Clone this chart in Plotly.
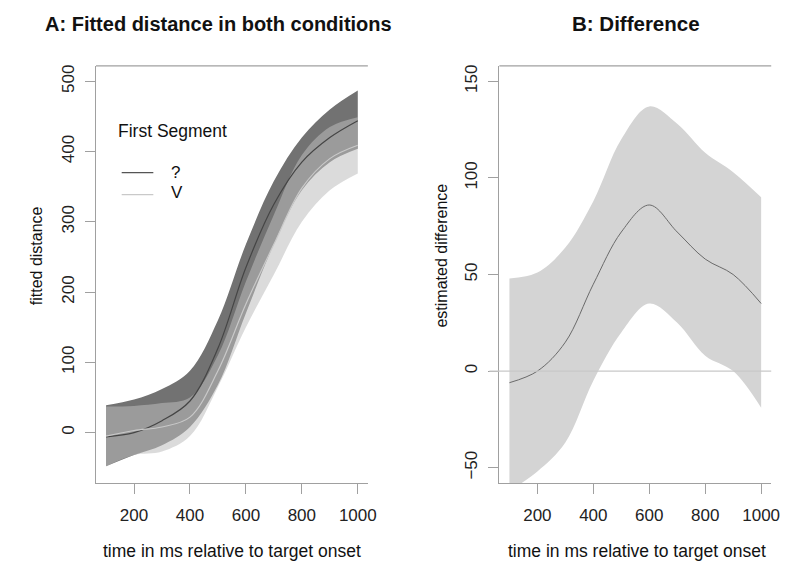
import plotly.graph_objects as go

# ---------------- data ----------------
time_ms = [100, 200, 300, 400, 500, 600, 700, 800, 900, 1000]

# Panel A: fitted distance, first segment "?"
q_fit   = [-6, 0, 17, 45, 120, 235, 325, 385, 420, 444]
q_upper = [39, 47, 62, 88, 160, 268, 358, 420, 460, 487]
q_lower = [-48, -32, -18, 8, 68, 170, 268, 345, 385, 404]

# Panel A: fitted distance, first segment "V"
v_fit   = [-5, 3, 8, 22, 88, 183, 268, 348, 390, 409]
v_upper = [37, 38, 42, 50, 110, 215, 310, 395, 435, 449]
v_lower = [-48, -32, -27, -5, 65, 150, 225, 300, 345, 369]

# Panel B: estimated difference
d_fit   = [-6, 0, 15, 45, 72, 86, 72, 58, 50, 35]
d_upper = [48, 51, 64, 88, 120, 137, 128, 113, 103, 90]
d_lower = [-62, -52, -37, -5, 20, 35, 25, 8, 0, -19]

x_ticks = [200, 400, 600, 800, 1000]
yA_ticks = [0, 100, 200, 300, 400, 500]
yB_ticks = [-50, 0, 50, 100, 150]

# ---------------- layout helpers ----------------
W, H = 791, 570
OFF = 8  # page body margin
def px(x):
    return (x - OFF) / W
def py(y):
    return 1 - (y - OFF) / H

FONT = "Liberation Sans, Arial, sans-serif"
AXC = "#a0a0a0"

fig = go.Figure()

# Panel A bands
fig.add_trace(go.Scatter(x=time_ms, y=q_lower, mode="lines", line=dict(width=0, shape="spline"),
                         xaxis="x", yaxis="y", showlegend=False, hoverinfo="skip"))
fig.add_trace(go.Scatter(x=time_ms, y=q_upper, mode="lines", line=dict(width=0, shape="spline"),
                         fill="tonexty", fillcolor="rgb(114,114,114)",
                         xaxis="x", yaxis="y", showlegend=False, hoverinfo="skip"))
fig.add_trace(go.Scatter(x=time_ms, y=v_lower, mode="lines", line=dict(width=0, shape="spline"),
                         xaxis="x", yaxis="y", showlegend=False, hoverinfo="skip"))
fig.add_trace(go.Scatter(x=time_ms, y=v_upper, mode="lines", line=dict(width=0, shape="spline"),
                         fill="tonexty", fillcolor="rgba(190,190,190,0.55)",
                         xaxis="x", yaxis="y", showlegend=False, hoverinfo="skip"))
# Panel A lines
fig.add_trace(go.Scatter(x=time_ms, y=q_fit, mode="lines", name="?",
                         line=dict(color="#454545", width=1.2, shape="spline"),
                         xaxis="x", yaxis="y", showlegend=False))
fig.add_trace(go.Scatter(x=time_ms, y=v_fit, mode="lines", name="V",
                         line=dict(color="#c9c9c9", width=1.2, shape="spline"),
                         xaxis="x", yaxis="y", showlegend=False))

# Panel B band + line
fig.add_trace(go.Scatter(x=time_ms, y=d_lower, mode="lines", line=dict(width=0, shape="spline"),
                         xaxis="x2", yaxis="y2", showlegend=False, hoverinfo="skip"))
fig.add_trace(go.Scatter(x=time_ms, y=d_upper, mode="lines", line=dict(width=0, shape="spline"),
                         fill="tonexty", fillcolor="rgb(212,212,212)",
                         xaxis="x2", yaxis="y2", showlegend=False, hoverinfo="skip"))
fig.add_trace(go.Scatter(x=time_ms, y=d_fit, mode="lines",
                         line=dict(color="#6a6a6a", width=1, shape="spline"),
                         xaxis="x2", yaxis="y2", showlegend=False))

axis_common = dict(showgrid=False, zeroline=False, showline=True, linecolor=AXC, linewidth=1.3,
                   ticks="outside", ticklen=10, tickcolor=AXC, tickwidth=1.3,
                   tickfont=dict(family=FONT, size=17, color="#222"))

fig.update_layout(
    width=W, height=H, autosize=False,
    margin=dict(l=0, r=0, t=0, b=0),
    paper_bgcolor="white", plot_bgcolor="white",
    xaxis=dict(domain=[px(97), px(372)], range=[64, 1036], tickvals=x_ticks, anchor="y",
               ticklabelstandoff=6, **axis_common),
    yaxis=dict(domain=[py(483), py(65)], range=[-72, 522], tickvals=yA_ticks, anchor="x",
               tickangle=-90, ticklabelstandoff=4, **axis_common),
    xaxis2=dict(domain=[px(505), px(780)], range=[64, 1036], tickvals=x_ticks, anchor="y2",
                ticklabelstandoff=6, **axis_common),
    yaxis2=dict(domain=[py(483), py(65)], range=[-58, 158], tickvals=yB_ticks, anchor="x2",
                tickangle=-90, ticklabelstandoff=4, **axis_common),
)

shapes = [
    # top frame lines
    dict(type="line", xref="paper", yref="paper", x0=px(97), x1=px(372), y0=py(65), y1=py(65),
         line=dict(color=AXC, width=1.3)),
    dict(type="line", xref="paper", yref="paper", x0=px(505), x1=px(780), y0=py(65), y1=py(65),
         line=dict(color=AXC, width=1.3)),
    # zero reference line in B
    dict(type="line", xref="paper", yref="y2", x0=px(495), x1=px(780), y0=0, y1=0,
         line=dict(color="#c8c8c8", width=1.2)),
    # legend samples
    dict(type="line", xref="paper", yref="paper", x0=px(123), x1=px(155), y0=py(172), y1=py(172),
         line=dict(color="#555555", width=1.3)),
    dict(type="line", xref="paper", yref="paper", x0=px(123), x1=px(155), y0=py(194), y1=py(194),
         line=dict(color="#c9c9c9", width=1.3)),
]
fig.update_layout(shapes=shapes)

def ann(text, x, y, size, bold=False, angle=0, xanchor="center"):
    return dict(text=f"<b>{text}</b>" if bold else text, x=px(x), y=py(y), xref="paper", yref="paper",
                showarrow=False, textangle=angle, xanchor=xanchor, yanchor="middle",
                font=dict(family=FONT, size=size, color="#111"))

annotations = [
    ann("A: Fitted distance in both conditions", 221, 23, 20, bold=True),
    ann("B: Difference", 643, 23, 20.5, bold=True),
    ann("fitted distance", 37, 255, 16, angle=-90),
    ann("estimated difference", 447, 255, 16, angle=-90),
    ann("time in ms relative to target onset", 235, 551, 17.5),
    ann("time in ms relative to target onset", 644, 551, 17.5),
    ann("First Segment", 117, 130, 17.5, xanchor="left"),
    ann("?", 171, 172, 17, xanchor="left"),
    ann("V", 171, 192, 17, xanchor="left"),
]
fig.update_layout(annotations=annotations)

fig.write_html("out.html")
